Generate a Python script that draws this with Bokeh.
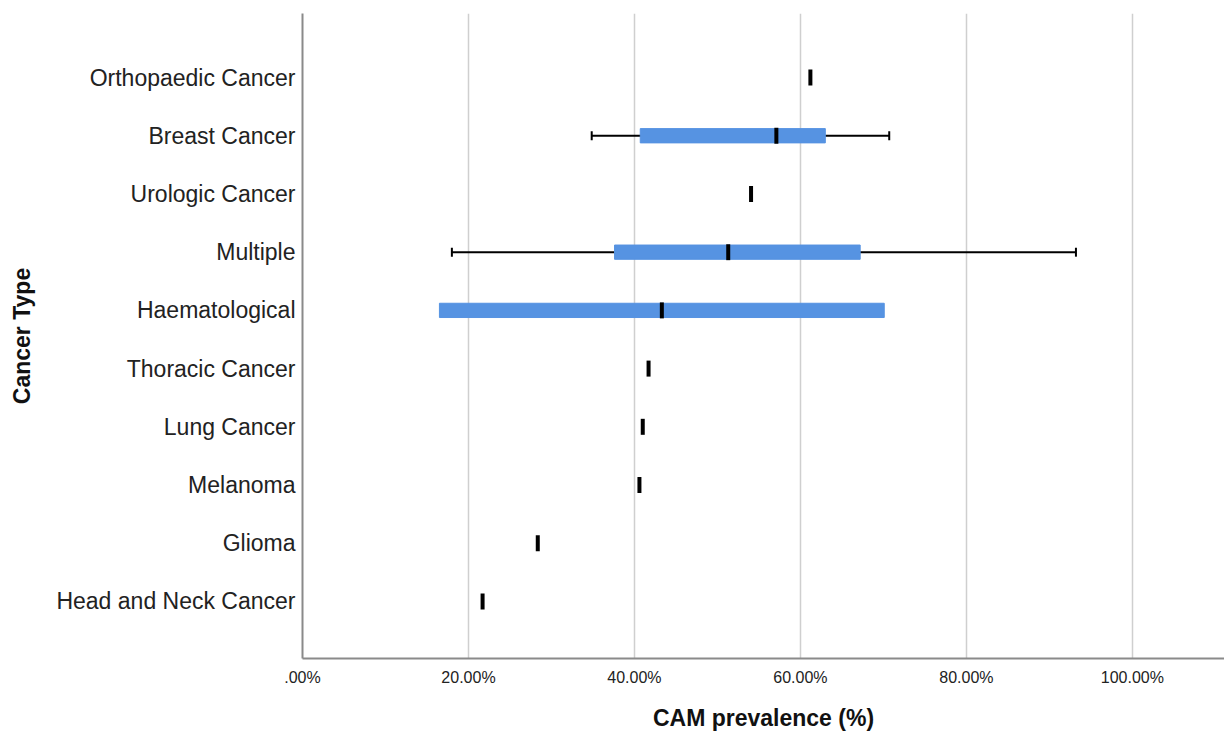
from bokeh.plotting import figure
from bokeh.models import Range1d, FixedTicker
from bokeh.embed import file_html
from bokeh.resources import INLINE

# Categories listed bottom -> top
categories = ["Head and Neck Cancer", "Glioma", "Melanoma", "Lung Cancer",
              "Thoracic Cancer", "Haematological", "Multiple", "Urologic Cancer",
              "Breast Cancer", "Orthopaedic Cancer"]
medians = [21.7, 28.35, 40.6, 41.0, 41.7, 43.3, 51.3, 54.05, 57.1, 61.2]

# Box (Q1-Q3) categories
box_cats = ["Haematological", "Multiple", "Breast Cancer"]
box_q1 = [16.5, 37.6, 40.7]
box_q3 = [70.1, 67.2, 63.0]

# Whisker categories
wh_cats = ["Multiple", "Breast Cancer"]
wh_low = [18.0, 34.85]
wh_high = [93.2, 70.7]

x_ticks = [0, 20, 40, 60, 80, 100]
x_tick_labels = [".00%", "20.00%", "40.00%", "60.00%", "80.00%", "100.00%"]

ypos = {c: i + 1 for i, c in enumerate(categories)}

p = figure(width=1224, height=733, output_backend="svg", toolbar_location=None,
           x_range=Range1d(0, 111.1), y_range=Range1d(0.02, 11.1),
           min_border_left=302, min_border_right=0, min_border_top=13,
           min_border_bottom=75)
p.outline_line_color = None
p.background_fill_color = "white"

# whiskers
wy = [ypos[c] for c in wh_cats]
p.segment(x0=wh_low, y0=wy, x1=wh_high, y1=wy, line_color="black", line_width=2)
p.rect(x=wh_low, y=wy, width=2, height=9, width_units="screen", height_units="screen",
       fill_color="black", line_color=None)
p.rect(x=wh_high, y=wy, width=2, height=9, width_units="screen", height_units="screen",
       fill_color="black", line_color=None)

# boxes
by = [ypos[c] for c in box_cats]
p.hbar(y=by, left=box_q1, right=box_q3, height=0.245, fill_color="#5693e2",
       line_color="#5693e2", line_width=1)

# medians
my = [ypos[c] for c in categories]
p.rect(x=medians, y=my, width=4, height=16, width_units="screen", height_units="screen",
       fill_color="black", line_color=None)

# axes
p.xaxis.ticker = FixedTicker(ticks=x_ticks)
p.xaxis.major_label_overrides = {t: l for t, l in zip(x_ticks, x_tick_labels)}
p.yaxis.ticker = FixedTicker(ticks=list(ypos.values()))
p.yaxis.major_label_overrides = {v: k for k, v in ypos.items()}

for ax in (p.xaxis[0], p.yaxis[0]):
    ax.axis_line_color = "#8a8a8a"
    ax.axis_line_width = 2
    ax.major_tick_line_color = None
    ax.minor_tick_line_color = None
    ax.major_tick_out = 0
    ax.major_tick_in = 0
    ax.major_label_text_font = "Liberation Sans"
    ax.major_label_text_color = "#222222"
    ax.axis_label_text_font = "Liberation Sans"
    ax.axis_label_text_font_style = "bold"
    ax.axis_label_text_font_size = "23px"
    ax.axis_label_text_color = "#111111"

p.xaxis.major_label_text_font_size = "16px"
p.xaxis.major_label_standoff = 10
p.xaxis.axis_label = "CAM prevalence (%)"
p.xaxis.axis_label_standoff = 16

p.yaxis.major_label_text_font_size = "23px"
p.yaxis.major_label_standoff = 7
p.yaxis.axis_label = "Cancer Type"
p.yaxis.axis_label_standoff = 18

p.xgrid.grid_line_color = "#cfcfcf"
p.xgrid.grid_line_width = 1.5
p.ygrid.grid_line_color = None

open("out.html", "w").write(file_html(p, INLINE))
